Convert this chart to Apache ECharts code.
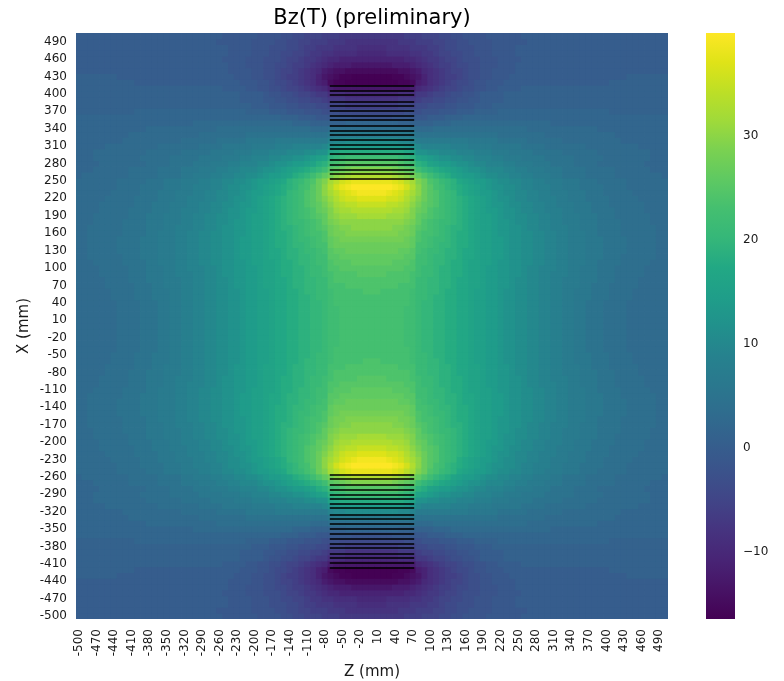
<!DOCTYPE html>
<html>
<head>
<meta charset="utf-8">
<script src="https://cdn.jsdelivr.net/npm/echarts@6/dist/echarts.min.js"></script>
<style>
  html, body { margin: 0; padding: 0; background: #fff; }
  #chart { width: 784px; height: 681px; }
</style>
</head>
<body>
<div id="chart"></div>
<script>
// grid cell centres (mm): -500 .. 500, step 10
var zCats = [];
var xCats = [];
for (var v = -500; v <= 500; v += 10) {
    zCats.push(v);
    xCats.push(v);
}

// Bz for the upper-left quarter:
// rows X = 500 .. 0 (top to bottom), columns Z = -500 .. 0 (left to right).
// the map is mirrored about Z = 0 and X = 0.
var bzUpperLeft = [
    [0,0,0,0,0,0,0,0,0,0, 0,0,0,0,0,0,0,0,0,0, 0,0,0,0,0,-1,-1,-1,-1,-1, -1,-2,-2,-2,-2,-3,-3,-4,-4,-5, -5,-5,-6, -6,-6,-7,-7,-7,-7,-7, -7],
    [0,0,0,0,0,0,0,0,0,0, 0,0,0,0,0,0,0,0,0,0, 0,0,0,0,-1,-1,-1,-1,-1,-1, -2,-2,-2,-2,-3,-3,-4,-4,-5,-5, -6,-6,-6, -7,-7,-7,-8,-8,-8,-8, -8],
    [0,0,0,0,0,0,0,0,0,0, 0,0,0,0,0,0,0,0,0,0, 0,0,0,0,0,0,-1,-1,-1,-1, -2,-2,-2,-3,-3,-3,-4,-4,-5,-6, -6,-7,-7, -7,-8,-8,-8,-8,-9,-9, -9],
    [0,0,0,0,0,0,0,0,0,0, 0,0,0,0,0,0,0,0,0,0, 0,0,0,0,0,0,-1,-1,-1,-1, -2,-2,-2,-3,-3,-4,-4,-5,-5,-6, -7,-7,-8, -8,-9,-9,-9,-9,-10,-10, -10],
    [0,0,0,0,0,0,0,0,0,0, 0,0,0,0,0,0,0,0,0,0, 0,0,0,0,0,-1,-1,-1,-1,-2, -2,-2,-3,-3,-3,-4,-5,-5,-6,-7, -7,-8,-9, -10,-10,-11,-11,-11,-11,-11, -11],
    [0,0,0,0,0,0,0,0,0,0, 0,0,0,0,0,0,0,0,0,0, 0,0,0,0,0,0,-1,-1,-1,-2, -2,-2,-3,-3,-4,-4,-5,-6,-6,-7, -8,-9,-10, -11,-12,-12,-12,-13,-13,-13, -13],
    [0,0,0,0,0,0,0,0,0,0, 0,0,0,0,0,0,0,0,0,0, 0,0,0,0,0,0,-1,-1,-1,-1, -2,-2,-3,-3,-4,-5,-5,-6,-7,-8, -9,-10,-12, -13,-14,-14,-15,-15,-15,-15, -15],
    [1,1,1,1,1,1,1,0,0,0, 0,0,0,0,0,0,0,0,0,0, 0,0,0,0,0,0,0,-1,-1,-1, -2,-2,-3,-3,-4,-5,-6,-6,-7,-8, -9,-11,-13, -14,-15,-16,-16,-17,-17,-17, -17],
    [1,1,1,1,1,1,1,1,1,1, 0,0,0,0,0,0,0,0,0,0, 0,0,0,0,0,0,0,0,-1,-1, -1,-2,-2,-3,-4,-4,-5,-6,-7,-8, -9,-11,-12, -15,-16,-16,-17,-17,-17,-17, -17],
    [1,1,1,1,1,1,1,1,1,1, 1,1,1,1,1,1,1,1,1,1, 1,1,1,1,1,0,0,0,0,-1, -1,-2,-2,-3,-3,-4,-5,-5,-6,-7, -8,-9,-10, -12,-13,-13,-13,-13,-13,-13, -13],
    [1,1,1,1,1,1,1,1,1,1, 1,1,1,1,1,1,1,1,1,1, 1,1,1,1,1,1,1,1,0,0, 0,0,-1,-2,-2,-3,-3,-4,-5,-5, -6,-7,-7, -9,-9,-9,-10,-10,-10,-10, -10],
    [1,1,1,1,1,1,1,1,1,1, 1,1,1,1,1,1,1,1,1,1, 1,1,1,1,1,1,1,1,0,0, 0,0,-1,-1,-2,-2,-3,-3,-4,-4, -5,-5,-6, -7,-7,-7,-8,-8,-8,-8, -8],
    [1,1,1,1,1,1,1,1,1,1, 1,1,1,1,1,1,1,1,1,1, 1,1,1,1,1,1,1,1,1,1, 0,0,0,-1,-1,-1,-2,-2,-3,-3, -3,-4,-4, -5,-5,-5,-6,-6,-6,-6, -6],
    [1,1,1,1,1,1,1,1,1,1, 2,2,2,2,2,2,2,2,2,2, 2,2,2,2,2,2,2,2,2,1, 1,1,1,0,0,0,-1,-1,-1,-2, -2,-2,-3, -3,-3,-4,-4,-4,-4,-4, -4],
    [2,2,2,2,2,2,2,2,2,2, 2,2,2,2,2,2,2,2,2,2, 2,2,2,2,2,2,2,2,2,2, 2,2,2,2,2,1,1,1,0,0, 0,-1,-1, -1,-1,-1,-1,-2,-2,-2, -2],
    [2,2,2,2,2,2,2,2,2,2, 2,2,2,2,2,2,2,2,2,2, 3,3,3,3,3,3,3,3,3,3, 3,3,3,3,3,3,3,2,2,2, 1,1,1, 1,1,1,2,2,2,2, 2],
    [2,2,2,2,2,2,2,2,2,2, 2,2,3,3,3,3,3,3,3,3, 3,3,3,3,4,4,4,4,4,4, 4,4,4,4,4,4,4,4,4,4, 3,3,3, 4,4,4,4,4,4,4, 4],
    [2,2,2,2,2,2,2,2,2,3, 3,3,3,3,3,3,3,3,3,3, 3,4,4,4,4,4,4,4,4,5, 5,5,5,5,5,5,5,5,5,5, 5,5,5, 6,7,7,7,7,7,7, 7],
    [2,2,2,2,2,2,2,2,3,3, 3,3,3,3,3,3,3,3,4,4, 4,4,4,4,5,5,5,5,5,6, 6,6,6,6,7,7,7,7,7,7, 7,7,7, 9,10,10,11,11,11,11, 11],
    [2,2,2,2,2,3,3,3,3,3, 3,3,3,3,4,4,4,4,4,4, 4,5,5,5,5,6,6,6,6,6, 7,7,7,7,8,8,8,9,9,9, 9,9,10, 12,13,14,14,14,14,14, 14],
    [2,2,2,3,3,3,3,3,3,3, 3,3,4,4,4,4,4,4,5,5, 5,5,5,6,6,6,6,7,7,7, 8,8,8,9,9,9,10,10,10,11, 11,12,12, 16,17,18,18,18,18,18, 18],
    [2,2,2,3,3,3,3,3,3,3, 3,4,4,4,4,4,5,5,5,5, 5,6,6,6,6,7,7,7,8,8, 9,9,9,10,10,11,11,12,12,13, 14,15,16, 19,20,21,22,22,22,22, 22],
    [2,2,2,2,3,3,3,3,3,3, 3,3,4,4,4,4,5,5,5,5, 6,6,6,7,7,7,8,8,9,9, 9,10,10,11,12,12,13,14,14,15, 16,18,19, 22,23,24,25,25,25,25, 25],
    [2,2,2,3,3,3,3,3,3,4, 4,4,4,4,5,5,5,5,6,6, 6,7,7,7,8,8,9,9,10,10, 10,11,12,12,13,14,15,16,17,18, 19,20,22, 25,26,27,28,29,29,29, 29],
    [2,3,3,3,3,3,3,3,3,4, 4,4,4,4,5,5,5,5,6,6, 7,7,7,8,8,9,9,10,10,11, 11,12,13,14,14,15,16,18,19,20, 22,24,26, 28,30,31,32,33,33,33, 33],
    [3,3,3,3,3,3,3,4,4,4, 4,4,5,5,5,6,6,6,7,7, 7,8,8,9,9,10,10,11,11,12, 13,14,14,15,16,17,19,20,21,23, 24,27,29, 32,34,36,37,38,38,38, 38],
    [3,3,3,3,3,3,3,4,4,4, 4,5,5,5,5,6,6,6,7,7, 8,8,8,9,9,10,11,11,12,12, 13,14,15,16,17,18,19,20,22,23, 25,27,30, 33,36,38,39,40,40,40, 40],
    [3,3,3,3,3,3,4,4,4,4, 4,5,5,5,6,6,6,7,7,7, 8,8,9,9,10,10,11,11,12,13, 14,14,15,16,17,18,20,21,22,24, 25,27,30, 32,34,36,37,38,39,39, 39],
    [3,3,3,3,3,4,4,4,4,4, 5,5,5,5,6,6,6,7,7,8, 8,8,9,9,10,10,11,12,12,13, 14,15,16,17,18,19,20,21,22,24, 25,27,29, 31,33,35,36,36,37,37, 37],
    [3,3,3,3,4,4,4,4,4,4, 5,5,5,6,6,6,7,7,7,8, 8,9,9,10,10,11,11,12,13,13, 14,15,16,17,18,19,20,21,22,24, 25,26,28, 30,32,33,34,34,35,35, 35],
    [3,3,3,3,4,4,4,4,4,5, 5,5,5,6,6,6,7,7,8,8, 8,9,9,10,10,11,12,12,13,14, 14,15,16,17,18,19,20,21,22,23, 24,26,27, 29,31,32,32,33,33,33, 33],
    [3,3,3,4,4,4,4,4,4,5, 5,5,6,6,6,7,7,7,8,8, 9,9,10,10,11,11,12,12,13,14, 15,15,16,17,18,19,20,21,22,23, 24,25,26, 29,30,31,31,31,32,32, 32],
    [3,3,3,4,4,4,4,4,5,5, 5,5,6,6,6,7,7,7,8,8, 9,9,10,10,11,11,12,13,13,14, 15,15,16,17,18,19,20,21,21,22, 23,24,26, 28,29,30,30,30,30,30, 30],
    [3,3,4,4,4,4,4,4,5,5, 5,5,6,6,6,7,7,8,8,8, 9,9,10,10,11,12,12,13,13,14, 15,15,16,17,18,19,19,20,21,22, 23,24,25, 27,28,29,29,30,30,30, 30],
    [3,3,4,4,4,4,4,4,5,5, 5,5,6,6,7,7,7,8,8,9, 9,10,10,11,11,12,12,13,13,14, 15,15,16,17,18,18,19,20,21,22, 23,23,24, 27,28,28,29,29,29,29, 29],
    [3,3,4,4,4,4,4,5,5,5, 5,6,6,6,7,7,7,8,8,9, 9,10,10,11,11,12,12,13,14,14, 15,15,16,17,18,18,19,20,21,21, 22,23,24, 26,27,28,28,28,28,28, 28],
    [3,3,4,4,4,4,4,5,5,5, 5,6,6,6,7,7,7,8,8,9, 9,10,10,11,11,12,12,13,14,14, 15,15,16,17,18,18,19,20,20,21, 22,23,23, 26,27,27,27,27,27,27, 27],
    [3,3,4,4,4,4,4,5,5,5, 5,6,6,6,7,7,7,8,8,9, 9,10,10,11,11,12,12,13,14,14, 15,15,16,17,17,18,19,19,20,21, 21,22,23, 25,26,26,27,27,27,27, 27],
    [3,3,4,4,4,4,4,4,5,5, 5,6,6,6,7,7,7,8,8,9, 9,10,10,11,11,12,12,13,14,14, 15,15,16,17,17,18,19,19,20,20, 21,22,22, 25,25,26,26,26,26,26, 26],
    [3,3,3,4,4,4,4,4,5,5, 5,5,6,6,7,7,7,8,8,9, 9,10,10,11,11,12,12,13,13,14, 15,15,16,16,17,18,18,19,20,20, 21,22,22, 24,25,25,25,26,26,26, 26],
    [3,3,3,3,4,4,4,4,4,5, 5,5,6,6,6,7,7,8,8,9, 9,9,10,10,11,12,12,13,13,14, 14,15,16,16,17,18,18,19,19,20, 21,21,22, 24,24,25,25,25,25,25, 25],
    [3,3,3,3,4,4,4,4,4,5, 5,5,6,6,6,7,7,8,8,8, 9,9,10,10,11,12,12,13,13,14, 14,15,16,16,17,18,18,19,19,20, 21,21,22, 23,24,24,24,24,25,25, 25],
    [3,3,3,3,3,4,4,4,4,5, 5,5,6,6,6,7,7,7,8,8, 9,9,10,10,11,11,12,13,13,14, 14,15,16,16,17,17,18,19,19,20, 20,21,21, 23,24,24,24,24,24,24, 24],
    [3,3,3,3,3,4,4,4,4,4, 5,5,5,6,6,7,7,7,8,8, 9,9,10,10,11,11,12,13,13,14, 14,15,16,16,17,17,18,19,19,20, 20,21,21, 23,23,23,24,24,24,24, 24],
    [3,3,3,3,3,3,4,4,4,4, 5,5,5,6,6,6,7,7,8,8, 9,9,10,10,11,11,12,12,13,14, 14,15,15,16,17,17,18,18,19,20, 20,21,21, 22,23,23,23,23,23,24, 24],
    [3,3,3,3,3,3,4,4,4,4, 5,5,5,6,6,6,7,7,8,8, 9,9,10,10,11,11,12,12,13,14, 14,15,15,16,17,17,18,18,19,19, 20,21,21, 22,23,23,23,23,23,23, 23],
    [3,3,3,3,3,3,3,4,4,4, 4,5,5,5,6,6,7,7,8,8, 9,9,10,10,11,11,12,12,13,14, 14,15,15,16,17,17,18,18,19,19, 20,20,21, 22,23,23,23,23,23,23, 23],
    [3,3,3,3,3,3,3,4,4,4, 4,5,5,5,6,6,7,7,8,8, 9,9,10,10,11,11,12,12,13,14, 14,15,15,16,17,17,18,18,19,19, 20,20,21, 22,22,23,23,23,23,23, 23],
    [3,3,3,3,3,3,3,4,4,4, 4,5,5,5,6,6,7,7,8,8, 9,9,10,10,11,11,12,12,13,14, 14,15,15,16,17,17,18,18,19,19, 20,20,21, 22,22,23,23,23,23,23, 23],
    [3,3,3,3,3,3,3,4,4,4, 4,5,5,5,6,6,7,7,8,8, 9,9,10,10,11,11,12,12,13,14, 14,15,15,16,17,17,18,18,19,19, 20,20,21, 22,22,23,23,23,23,23, 23],
    [3,3,3,3,3,3,3,4,4,4, 4,5,5,5,6,6,7,7,8,8, 9,9,10,10,11,11,12,12,13,14, 14,15,15,16,17,17,18,18,19,19, 20,20,21, 22,22,23,23,23,23,23, 23]
];

// coil turns (black lines), X positions in mm, spanning Z from -72 to 72
var upperTurnsX = [414, 406, 398, 387, 379, 371, 363, 355, 346, 337, 329, 321, 313, 305, 297, 286, 278, 270, 262, 253];
var lowerTurnsX = [-256, -264, -274, -282, -290, -298, -306, -314, -325, -333, -341, -350, -358, -366, -375, -383, -392, -400, -408, -416];
var turnZ = [-72, 72];

// colour bar range and ticks
var cbMin = -16.5;
var cbMax = 39.9;
var cbTicks = [-10, 0, 10, 20, 30];

var viridis = ['#440154', '#471365', '#482475', '#46337f', '#414487', '#3b528b', '#355f8d', '#2f6c8e',
    '#2a788e', '#26828e', '#21918c', '#1f9e89', '#22a884', '#35b779', '#44bf70', '#5ec962',
    '#7ad151', '#9fda3a', '#bddf26', '#dfe318', '#fde725'];
</script>
<script>
(function () {
    var n = zCats.length;
    var mid = (n - 1) / 2;
    var heat = [];
    for (var i = 0; i < n; i++) {
        for (var j = 0; j < n; j++) {
            var c = i <= mid ? i : n - 1 - i;
            var r = j <= mid ? j : n - 1 - j;
            heat.push([i, j, bzUpperLeft[r][c]]);
        }
    }

    var turns = [];
    upperTurnsX.concat(lowerTurnsX).forEach(function (x) {
        turns.push({coords: [[turnZ[0], x], [turnZ[1], x]]});
    });

    var stops = viridis.map(function (col, k) {
        return {offset: 1 - k / (viridis.length - 1), color: col};
    });

    var font = 'DejaVu Sans';
    var txt = '#1a1a1a';

    var myChart = echarts.init(document.getElementById('chart'));
    var option = {
        animation: false,
        backgroundColor: '#fff',
        textStyle: {fontFamily: font},
        title: {
            text: 'Bz(T) (preliminary)',
            left: 372,
            top: 8,
            padding: 0,
            textAlign: 'center',
            textStyle: {fontFamily: font, fontSize: 21, fontWeight: 'normal', color: '#000'}
        },
        grid: [
            {left: 76, top: 33, width: 592, height: 586, outerBoundsMode: 'none'},
            {left: 706, top: 33, width: 29, height: 586, outerBoundsMode: 'none'}
        ],
        xAxis: [
            {
                type: 'category', gridIndex: 0, data: zCats,
                name: 'Z (mm)', nameLocation: 'middle', nameGap: 45,
                nameTextStyle: {fontFamily: font, fontSize: 15, color: txt},
                axisLine: {show: false},
                axisTick: {interval: 2, alignWithLabel: true, length: 4, lineStyle: {color: txt}},
                axisLabel: {interval: 2, rotate: 90, margin: 10, fontFamily: font, fontSize: 12, color: txt},
                splitLine: {show: false}
            },
            {type: 'value', gridIndex: 0, min: -505, max: 505, show: false},
            {type: 'value', gridIndex: 1, min: 0, max: 1, show: false}
        ],
        yAxis: [
            {
                type: 'category', gridIndex: 0, data: xCats,
                name: 'X (mm)', nameLocation: 'middle', nameRotate: 90, nameGap: 44,
                nameMoveOverlap: false,
                nameTextStyle: {fontFamily: font, fontSize: 15, color: txt},
                axisLine: {show: false},
                axisTick: {interval: 2, alignWithLabel: true, length: 4, lineStyle: {color: txt}},
                axisLabel: {interval: 2, margin: 9, fontFamily: font, fontSize: 12, color: txt},
                splitLine: {show: false}
            },
            {type: 'value', gridIndex: 0, min: -505, max: 505, show: false},
            {
                type: 'value', gridIndex: 1, min: cbMin, max: cbMax, position: 'right',
                axisLine: {show: false},
                axisTick: {show: true, length: 4, customValues: cbTicks, lineStyle: {color: txt}},
                axisLabel: {
                    customValues: cbTicks, margin: 8, fontFamily: font, fontSize: 12, color: txt,
                    formatter: function (v) { return v < 0 ? '\u2212' + Math.abs(v) : String(v); }
                },
                splitLine: {show: false}
            }
        ],
        visualMap: {
            show: false, type: 'continuous', seriesIndex: 0, dimension: 2,
            min: cbMin, max: cbMax, inRange: {color: viridis}
        },
        series: [
            {
                // cells drawn as slightly overlapping rects so no seams show between them
                type: 'custom', xAxisIndex: 0, yAxisIndex: 0, data: heat,
                encode: {x: 0, y: 1}, progressive: 0, silent: true, clip: true,
                renderItem: function (params, api) {
                    var p = api.coord([api.value(0), api.value(1)]);
                    var s = api.size([1, 1]);
                    return {
                        type: 'rect',
                        shape: {x: p[0] - s[0] / 2 - 0.4, y: p[1] - s[1] / 2 - 0.4, width: s[0] + 0.8, height: s[1] + 0.8},
                        style: {fill: api.visual('color')}
                    };
                }
            },
            {
                type: 'lines', coordinateSystem: 'cartesian2d', xAxisIndex: 1, yAxisIndex: 1,
                data: turns, silent: true, z: 5,
                lineStyle: {color: '#000', width: 1.6, opacity: 1}
            },
            {
                type: 'custom', xAxisIndex: 2, yAxisIndex: 2, silent: true,
                data: [[0, cbMin, cbMax]],
                encode: {x: 0, y: [1, 2]},
                renderItem: function (params, api) {
                    var p0 = api.coord([0, api.value(2)]);
                    var p1 = api.coord([1, api.value(1)]);
                    return {
                        type: 'rect',
                        shape: {x: p0[0], y: p0[1], width: p1[0] - p0[0], height: p1[1] - p0[1]},
                        style: {fill: new echarts.graphic.LinearGradient(0, 0, 0, 1, stops)}
                    };
                }
            }
        ]
    };
    myChart.setOption(option);
})();
</script>
</body>
</html>
